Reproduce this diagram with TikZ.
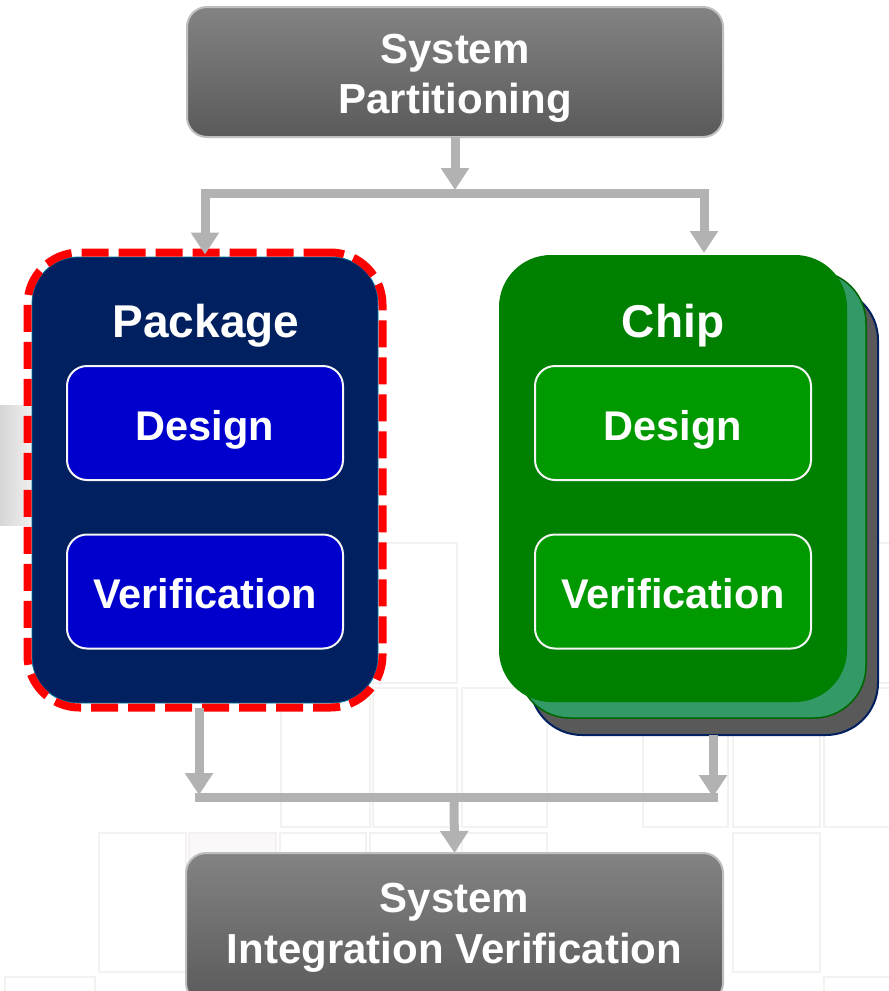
\documentclass[tikz,border=0pt]{standalone}
\usepackage{fontspec}
\setmainfont{Liberation Sans}
\usetikzlibrary{arrows.meta}

\definecolor{navyfill}{HTML}{002060}
\definecolor{pkgblue}{HTML}{0000CC}
\definecolor{chipgreen}{HTML}{008000}
\definecolor{chipinner}{HTML}{009900}
\definecolor{layertwo}{HTML}{339966}
\definecolor{layertwoedge}{HTML}{006600}
\definecolor{layerthree}{HTML}{595959}
\definecolor{systop}{HTML}{838383}
\definecolor{sysbot}{HTML}{5A5A5A}
\definecolor{sysedge}{HTML}{BFBFBF}
\definecolor{arrowgray}{HTML}{B2B2B2}
\definecolor{tilegray}{HTML}{F4F1F1}
\definecolor{redframe}{HTML}{FF0000}

\tikzset{
  sysbox/.style={draw=sysedge, line width=2pt, rounded corners=20pt,
    top color=systop, bottom color=sysbot, minimum width=536pt,
    inner sep=0pt, outer sep=0pt},
  lbl/.style={text=white, anchor=base, inner sep=0pt,
    font=\bfseries\fontsize{42}{50}\selectfont},
  biglbl/.style={lbl, font=\bfseries\fontsize{46}{54}\selectfont},
  sublbl/.style={lbl, font=\bfseries\fontsize{41.5}{50}\selectfont},
  innerbox/.style={draw=white!92!gray, line width=2pt, rounded corners=20pt,
    minimum width=276pt, minimum height=114pt, inner sep=0pt},
  groupbox/.style={rounded corners=52pt, minimum width=348pt,
    minimum height=447pt, inner sep=0pt, outer sep=0pt},
  conn/.style={draw=arrowgray, line width=9pt},
  tipend/.style={-{Triangle[width=27pt,length=22pt]}},
  tile/.style={draw=tilegray, line width=1.4pt},
}

\begin{document}
\begin{tikzpicture}[x=1pt,y=-1pt]
  \useasboundingbox (0,0) rectangle (889,991);
  \clip (0,0) rectangle (889,991);
  \fill[white] (0,0) rectangle (889,991);

  % faint tiles of the slide background
  \foreach \xa/\xb in {281/370, 373/457, 462/547, 643/728, 733/820, 824/900}
    \draw[tile] (\xa,688) rectangle (\xb,827);
  \foreach \xa/\xb in {99/186, 280/366, 370/457, 462/547, 733/820}
    \draw[tile] (\xa,833) rectangle (\xb,972);
  \filldraw[tile, fill=tilegray!50] (189,833) rectangle (276,972);
  \draw[tile] (373,543) rectangle (457,683);
  \draw[tile] (824,543) rectangle (900,683);
  \draw[tile] (5,977) rectangle (95,1000);
  \draw[tile] (824,977) rectangle (900,1000);

  % grey strip at the left edge
  \shade[left color=black!16, right color=black!6] (0,405) rectangle (32,525);

  % top box
  \node[sysbox, minimum height=130pt] (sysPart) at (455,72) {};
  \node[lbl] (sysPartA) at (455,63) {System};
  \node[lbl] (sysPartB) at (455,113) {Partitioning};

  % package group
  \node[groupbox, fill=navyfill, draw=navyfill!60!cyan, line width=0.8pt,
        minimum width=346pt, minimum height=446pt, rounded corners=46pt] (pkg) at (205,480) {};
  \node[groupbox, draw=redframe, line width=8pt, dash pattern=on 27pt off 10pt,
        minimum width=355pt, minimum height=455pt] (pkgFrame) at (205,480) {};
  \node[biglbl] (pkgLbl) at (206,337) {Package};
  \node[innerbox, fill=pkgblue] (pkgDesign) at (205,423) {};
  \node[sublbl] (pkgDesignLbl) at (205,440) {Design};
  \node[innerbox, fill=pkgblue] (pkgVerif) at (205,591.5) {};
  \node[sublbl] (pkgVerifLbl) at (205,608) {Verification};

  % chip group, stacked sheets
  \node[groupbox, fill=layerthree, draw=navyfill, line width=2pt] (chip3) at (704,511.5) {};
  \node[groupbox, fill=layertwo, draw=layertwoedge, line width=1.5pt] (chip2) at (692,494.5) {};
  \node[groupbox, fill=chipgreen] (chip) at (673,478.5) {};
  \node[biglbl] (chipLbl) at (673,337) {Chip};
  \node[innerbox, fill=chipinner] (chipDesign) at (673,423) {};
  \node[sublbl] (chipDesignLbl) at (673,440) {Design};
  \node[innerbox, fill=chipinner] (chipVerif) at (673,591.5) {};
  \node[sublbl] (chipVerifLbl) at (673,608) {Verification};

  % bottom box
  \node[sysbox, minimum width=537pt, minimum height=150pt] (sysInt) at (454.5,928) {};
  \node[lbl] (sysIntA) at (454.5,912) {System};
  \node[lbl] (sysIntB) at (454.5,963) {Integration Verification};

  % connectors: split
  \coordinate (split) at (455,193);
  \coordinate (splitL) at (205,193);
  \coordinate (splitR) at (704,193);
  \coordinate (chipIn) at (704,253);
  \draw[conn, tipend, shorten >=3pt] (sysPart.south) -- (split);
  \draw[conn, line join=miter,
        {Triangle[width=27pt,length=22pt]}-{Triangle[width=27pt,length=22pt]}]
        ([yshift=-2pt]pkgFrame.north) -- (splitL) -- (splitR) -- (chipIn);

  % connectors: merge
  \coordinate (joinL) at (199,797);
  \coordinate (joinR) at (713,797);
  \coordinate (join) at (454,797);
  \draw[conn, line cap=rect] (joinL) -- (joinR);
  \draw[conn, tipend, shorten >=2pt] (pkgFrame.south -| joinL) -- (joinL);
  \draw[conn, tipend] (chip3.south -| joinR) -- (joinR);
  \draw[conn, tipend] (join) -- (sysInt.north);
\end{tikzpicture}
\end{document}
